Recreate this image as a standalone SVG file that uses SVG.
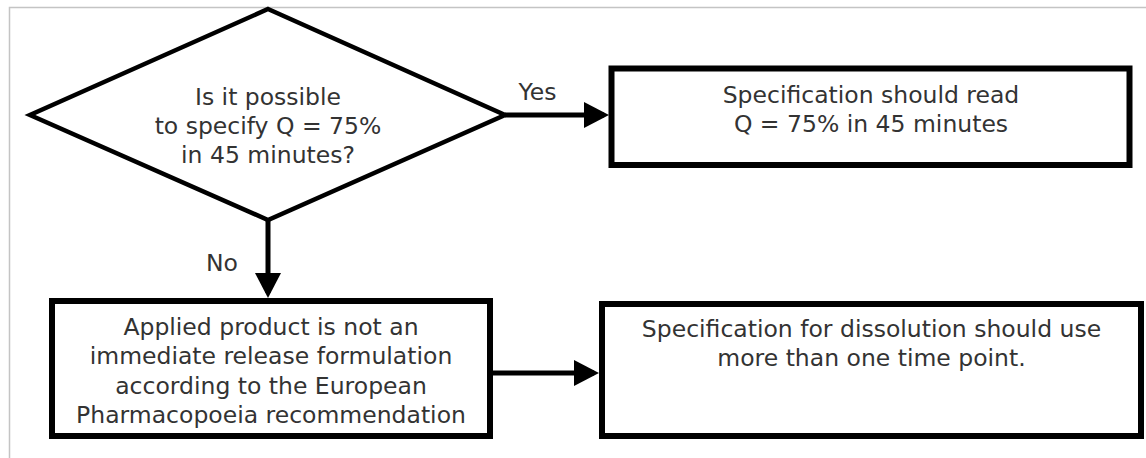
<svg xmlns="http://www.w3.org/2000/svg" width="1146" height="458" viewBox="0 0 1146 458">
  <style>
    .frame { fill: none; stroke: #c4c4c4; stroke-width: 1.5; }
    .box { fill: #ffffff; stroke: #000000; stroke-width: 6; }
    .dia { fill: #ffffff; stroke: #000000; stroke-width: 4.5; stroke-linejoin: miter; }
    .conn { fill: none; stroke: #000000; stroke-width: 5; }
    text { font-family: "DejaVu Sans", Verdana, sans-serif; font-size: 23.5px; fill: #333333; text-anchor: middle; }
  </style>
  <defs>
    <marker id="arrow" viewBox="0 0 25 26" refX="20" refY="13" markerWidth="25" markerHeight="26" markerUnits="userSpaceOnUse" orient="auto">
      <path d="M0,0 L25,13 L0,26 z" fill="#000000"/>
    </marker>
  </defs>
  <rect width="1146" height="458" fill="#ffffff"/>
  <path class="frame" d="M9.5,460 V7.5 H1148"/>

  <g id="connectors">
    <path class="conn" d="M505,115 H604" marker-end="url(#arrow)"/>
    <path class="conn" d="M268,220 V293" marker-end="url(#arrow)"/>
    <path class="conn" d="M490,373 H594" marker-end="url(#arrow)"/>
    <text x="537.5" y="100">Yes</text>
    <text x="222" y="271">No</text>
  </g>

  <g id="decision">
    <polygon class="dia" points="268,9 505,115 268,220 30,115"/>
    <text x="268" y="105">Is it possible</text>
    <text x="268" y="133.5">to specify Q = 75%</text>
    <text x="268" y="162.5">in 45 minutes?</text>
  </g>

  <g id="spec-read">
    <rect class="box" x="611.5" y="68.5" width="518" height="96.5"/>
    <text x="871" y="103">Specification should read</text>
    <text x="871" y="132">Q = 75% in 45 minutes</text>
  </g>

  <g id="not-immediate">
    <rect class="box" x="52" y="301" width="438" height="135"/>
    <text x="271" y="334.5">Applied product is not an</text>
    <text x="271" y="364">immediate release formulation</text>
    <text x="271" y="393.5">according to the European</text>
    <text x="271" y="423">Pharmacopoeia recommendation</text>
  </g>

  <g id="multi-point">
    <rect class="box" x="602" y="304" width="539" height="132"/>
    <text x="871.5" y="337">Specification for dissolution should use</text>
    <text x="871.5" y="366">more than one time point.</text>
  </g>
</svg>
